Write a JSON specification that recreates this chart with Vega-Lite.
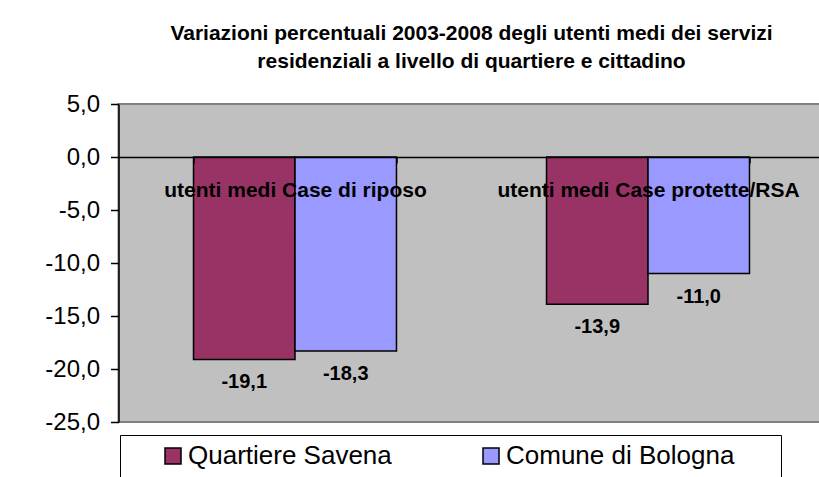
{
  "$schema": "https://vega.github.io/schema/vega-lite/v6.json",
  "width": 706,
  "height": 318,
  "autosize": "none",
  "padding": {"left": 118.5, "top": 104, "right": 0, "bottom": 60},
  "background": "white",
  "title": {
    "text": ["Variazioni percentuali 2003-2008 degli utenti medi dei servizi", "residenziali  a livello di quartiere e cittadino"],
    "anchor": "middle",
    "frame": "group",
    "font": "Liberation Sans",
    "fontSize": 21,
    "fontWeight": "bold",
    "lineHeight": 28,
    "color": "black",
    "offset": 20
  },
  "data": {
    "values": [
      {"categoria": "utenti medi Case di riposo", "serie": "Quartiere Savena", "valore": -19.1},
      {"categoria": "utenti medi Case di riposo", "serie": "Comune di Bologna", "valore": -18.3},
      {"categoria": "utenti medi Case protette/RSA", "serie": "Quartiere Savena", "valore": -13.9},
      {"categoria": "utenti medi Case protette/RSA", "serie": "Comune di Bologna", "valore": -11.0}
    ]
  },
  "encoding": {
    "x": {
      "field": "categoria",
      "type": "nominal",
      "sort": null,
      "scale": {"paddingInner": 0.425, "paddingOuter": 0.2125},
      "axis": {
        "title": null,
        "orient": "bottom",
        "offset": -265,
        "labelAngle": 0,
        "labelFont": "Liberation Sans",
        "labelFontSize": 21,
        "labelFontWeight": "bold",
        "labelColor": "black",
        "labelPadding": 16,
        "labelLimit": 400,
        "domainColor": "black",
        "domainWidth": 1.5,
        "tickColor": "black",
        "tickWidth": 1.5,
        "tickSize": 6,
        "tickBand": "extent",
        "zindex": 1
      }
    },
    "xOffset": {
      "field": "serie",
      "type": "nominal",
      "sort": ["Quartiere Savena", "Comune di Bologna"],
      "scale": {"paddingInner": 0, "paddingOuter": 0}
    },
    "y": {
      "field": "valore",
      "type": "quantitative",
      "scale": {"domain": [-25, 5], "nice": false, "zero": false},
      "axis": {
        "title": null,
        "values": [-25, -20, -15, -10, -5, 0, 5],
        "format": ".1f",
        "grid": false,
        "labelFont": "Liberation Sans",
        "labelFontSize": 24,
        "labelColor": "black",
        "labelPadding": 11,
        "domainColor": "black",
        "domainWidth": 1.5,
        "tickColor": "black",
        "tickWidth": 1.5,
        "tickSize": 8,
        "zindex": 1
      }
    }
  },
  "layer": [
    {
      "mark": {"type": "bar", "stroke": "black", "strokeWidth": 1.5},
      "encoding": {
        "color": {
          "field": "serie",
          "type": "nominal",
          "sort": ["Quartiere Savena", "Comune di Bologna"],
          "scale": {"domain": ["Quartiere Savena", "Comune di Bologna"], "range": ["#993366", "#9999FF"]},
          "legend": {
            "title": " ",
            "titleOrient": "right",
            "titlePadding": 39,
            "titleFontSize": 10,
            "orient": "none",
            "legendX": 1.5,
            "legendY": 331,
            "direction": "horizontal",
            "strokeColor": "black",
            "fillColor": "white",
            "padding": 8,
            "symbolType": "square",
            "symbolSize": 256,
            "symbolStrokeColor": "black",
            "symbolStrokeWidth": 1.5,
            "symbolOpacity": 1,
            "symbolOffset": 32,
            "labelFont": "Liberation Sans",
            "labelFontSize": 26,
            "labelColor": "black",
            "labelLimit": 400,
            "labelOffset": 2,
            "columnPadding": 54
          }
        }
      }
    },
    {
      "mark": {"type": "text", "font": "Liberation Sans", "fontSize": 20, "fontWeight": "bold", "baseline": "middle", "dy": 23, "color": "black"},
      "encoding": {
        "text": {"field": "valore", "type": "quantitative", "format": ".1f"}
      }
    }
  ],
  "config": {
    "locale": {"number": {"decimal": ",", "thousands": ".", "grouping": [3], "currency": ["", " €"], "minus": "-"}},
    "view": {"fill": "#C0C0C0", "stroke": "#808080", "strokeWidth": 2}
  }
}
